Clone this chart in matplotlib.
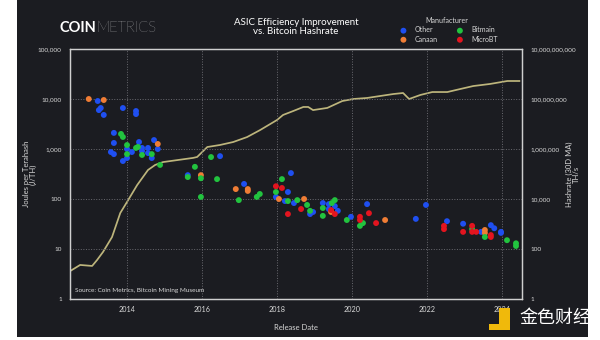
import matplotlib.pyplot as plt
import matplotlib.ticker as mticker
from matplotlib.patches import Rectangle

plt.rcParams['font.family'] = ['Lato', 'DejaVu Sans']

BG = '#1b1c21'
FG = '#d8d8d8'

# hashrate, 30 day moving average (TH/s)
hash_year = [2012.49, 2012.76, 2013.08, 2013.21, 2013.37, 2013.61, 2013.83, 2014.01, 2014.28,
             2014.57, 2014.76, 2014.97, 2015.35, 2015.77, 2015.88, 2016.15, 2016.49, 2016.84,
             2017.21, 2017.56, 2018.01, 2018.17, 2018.44, 2018.71, 2018.84, 2018.97, 2019.35,
             2019.75, 2020.04, 2020.41, 2020.76, 2021.11, 2021.37, 2021.53, 2021.83, 2022.15,
             2022.55, 2022.89, 2023.24, 2023.69, 2024.15, 2024.47]
hash_ths = [13, 23, 21, 36, 76, 300, 2750, 7600, 36000,
            145000, 230000, 300000, 360000, 440000, 480000, 1200000, 1450000, 1900000,
            3000000, 5750000, 14500000, 23000000, 33000000, 48000000, 48000000, 36000000, 44000000,
            83000000, 100000000, 110000000, 132000000, 158000000, 174000000, 100000000, 145000000, 190000000,
            190000000, 250000000, 330000000, 400000000, 525000000, 525000000]

# ASIC models: release date and efficiency (J/TH)
other_year = [2013.23, 2013.26, 2013.31, 2013.39, 2013.90, 2014.25, 2014.25, 2013.66, 2013.66, 2014.33,
              2014.73, 2013.58, 2013.66, 2014.01, 2014.14, 2014.41, 2014.41, 2014.57, 2014.57, 2014.67,
              2014.83, 2014.01, 2013.90, 2016.49, 2015.63, 2017.13, 2018.38, 2018.30, 2017.98, 2018.22,
              2018.46, 2018.89, 2018.97, 2019.23, 2019.39, 2019.39, 2019.63, 2019.55, 2019.98, 2020.41,
              2021.71, 2021.98, 2022.54, 2022.97, 2023.45, 2023.71, 2023.80, 2023.98, 2023.98]
other_jth = [9120, 6000, 6600, 4800, 6600, 5750, 5000, 2100, 1320, 1380,
             1510, 870, 790, 1000, 870, 1050, 910, 1050, 830, 660,
             1000, 660, 575, 720, 300, 200, 330, 138, 110, 91,
             83, 50, 55, 83, 79, 63, 58, 72, 44, 79,
             40, 76, 36, 32, 22, 30, 26, 22, 21]

canaan_year = [2012.99, 2013.39, 2014.83, 2015.98, 2016.91, 2017.23, 2017.23, 2018.06, 2018.73,
               2019.45, 2020.89, 2023.55, 2023.55]
canaan_jth = [10000, 9550, 1260, 300, 158, 158, 145, 100, 100,
              55, 38, 24, 21]

bitmain_year = [2013.85, 2013.90, 2014.01, 2014.01, 2014.25, 2014.30, 2014.41, 2014.67, 2014.89,
                2016.25, 2015.82, 2015.63, 2015.98, 2016.41, 2015.98, 2017.55, 2017.47, 2016.99,
                2018.14, 2017.98, 2018.30, 2018.55, 2018.81, 2018.89, 2019.23, 2019.23, 2019.47,
                2019.55, 2019.87, 2020.30, 2020.22, 2023.21, 2023.55, 2024.14, 2024.38, 2024.38]
bitmain_jth = [2000, 1740, 1200, 790, 1050, 1100, 760, 790, 480,
               690, 440, 275, 260, 250, 110, 126, 110, 95,
               250, 138, 91, 95, 76, 58, 46, 66, 83,
               95, 38, 33, 29, 25, 17.4, 15, 13, 11.5]

microbt_year = [2017.98, 2018.14, 2018.30, 2018.65, 2019.45, 2019.55, 2020.22, 2020.22, 2020.46,
                2020.65, 2022.46, 2022.46, 2022.97, 2023.21, 2023.21, 2023.32, 2023.71, 2023.71]
microbt_jth = [180, 166, 50, 63, 60, 50, 44, 38, 52,
               33, 29, 25, 22, 29, 22, 22, 19, 17.4]

x_ticks = [2014, 2016, 2018, 2020, 2022, 2024]
left_ticks = [1, 10, 100, 1000, 10000, 100000]
right_ticks = [1, 1e2, 1e4, 1e6, 1e8, 1e10]

fig = plt.figure(figsize=(6, 3.4), dpi=100, facecolor='white')
# dark panel, behind everything else
fig.patches.append(Rectangle((17 / 600, 3 / 340), 571 / 600, 337 / 340, transform=fig.transFigure,
                             facecolor=BG, edgecolor='none', zorder=-10))

ax = fig.add_axes([70 / 600, 41 / 340, 452 / 600, 250 / 340])
ax2 = ax.twinx()

# hashrate line on the right axis, drawn behind the dots
ax2.plot(hash_year, hash_ths, color='#bdb57c', lw=1.25, zorder=1)
ax2.set_yscale('log')
ax2.set_ylim(1, 1e10)
ax2.set_yticks(right_ticks)
ax2.yaxis.set_major_formatter(mticker.FuncFormatter(lambda v, p: f'{v:,.0f}'))
ax2.yaxis.set_minor_locator(mticker.NullLocator())
ax2.tick_params(axis='y', length=0, pad=6, labelsize=4.6, colors=FG)
ax2.set_ylabel('Hashrate (30D MA)\nTH/s', color=FG, fontsize=5.5, linespacing=1.0)
ax2.yaxis.set_label_coords(1.097, 0.5)

ax.set_zorder(ax2.get_zorder() + 1)
ax.patch.set_visible(False)
ax2.patch.set_facecolor(BG)

groups = [('Other', other_year, other_jth, '#1f4ff0'),
          ('Canaan', canaan_year, canaan_jth, '#f07d35'),
          ('Bitmain', bitmain_year, bitmain_jth, '#22c33f'),
          ('MicroBT', microbt_year, microbt_jth, '#e3141f')]
for name, yrs, vals, col in groups:
    ax.scatter(yrs, vals, s=18, color=col, label=name, edgecolors='none', zorder=3)

ax.set_yscale('log')
ax.set_ylim(1, 1e5)
ax.set_xlim(2012.49, 2024.54)
ax.set_xticks(x_ticks)
ax.set_yticks(left_ticks)
ax.yaxis.set_major_formatter(mticker.FuncFormatter(lambda v, p: f'{v:,.0f}'))
ax.yaxis.set_minor_locator(mticker.NullLocator())
ax.tick_params(axis='both', length=0, labelsize=4.6, colors=FG)
ax.tick_params(axis='x', pad=5, labelsize=5.2)
ax.tick_params(axis='y', pad=6)
ax2.grid(False)
ax.grid(True, color='#6a6a70', linestyle=':', linewidth=0.7)
ax.set_ylabel('Joules per Terahash\n(J/TH)', color=FG, fontsize=5.5, linespacing=1.0)
ax.yaxis.set_label_coords(-0.073, 0.5)
ax.set_xlabel('Release Date', color=FG, fontsize=5.5, labelpad=8)
for a in (ax, ax2):
    for s in a.spines.values():
        s.set_color('#cfcfcf')
        s.set_linewidth(0.9)

ax.text(0.012, 0.025, 'Source: Coin Metrics, Bitcoin Mining Museum', transform=ax.transAxes,
        color=FG, fontsize=4.6, va='bottom', ha='left')

leg = ax.legend(title='Manufacturer', ncol=2, loc='center', bbox_to_anchor=(447 / 600, 1 - 30 / 340),
                bbox_transform=fig.transFigure, frameon=False, fontsize=5, title_fontsize=5,
                handletextpad=0.6, columnspacing=2.2, labelspacing=0.3, markerscale=1.0,
                borderpad=0.2)
for t in leg.get_texts():
    t.set_color(FG)
leg.get_title().set_color(FG)

# header
fig.text(59 / 600, 1 - 28 / 340, 'COIN', color='white', fontsize=10.5, fontweight='bold',
         va='center', ha='left')
fig.text(96 / 600, 1 - 28 / 340, 'METRICS', color='white', fontsize=10.5, fontweight='light',
         va='center', ha='left')
fig.text(296 / 600, 1 - 27 / 340, 'ASIC Efficiency Improvement\nvs. Bitcoin Hashrate', color='white',
         fontsize=7, ha='center', va='center', linespacing=1.1)

# watermark
fig.patches.append(Rectangle((499 / 600, 1 - 330 / 340), 11 / 600, 22 / 340, transform=fig.transFigure,
                             facecolor='#f0b90b', edgecolor='none', zorder=5))
fig.patches.append(Rectangle((489 / 600, 1 - 330 / 340), 10 / 600, 6 / 340, transform=fig.transFigure,
                             facecolor='#f0b90b', edgecolor='none', zorder=5))
fig.text(555 / 600, 1 - 318 / 340, '金色财经', family=['Noto Sans CJK SC', 'DejaVu Sans'],
         color='white', fontsize=13, ha='center', va='center')

fig.savefig('out.png', dpi=100, facecolor='white')
